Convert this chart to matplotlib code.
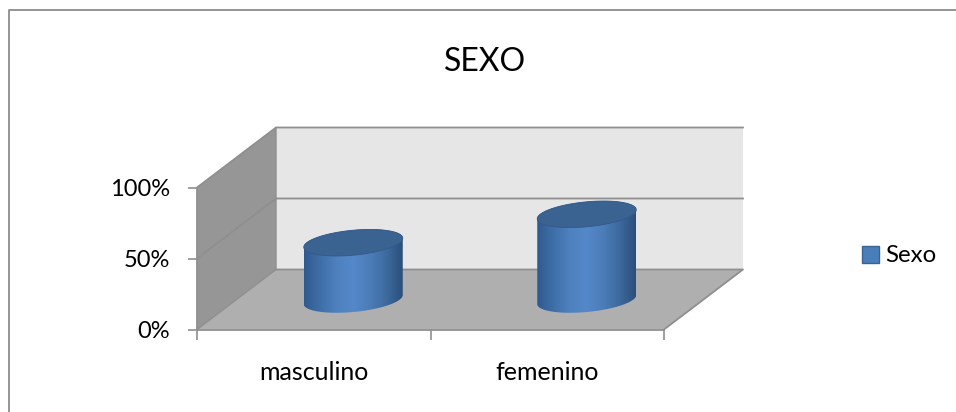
#!/usr/bin/env python3
"""Pseudo-3D cylinder chart, SEXO by category."""

import matplotlib
matplotlib.use("Agg")
import matplotlib.pyplot as plt
import numpy as np
from matplotlib.colors import LinearSegmentedColormap
from matplotlib.lines import Line2D
from matplotlib.patches import Patch, Polygon
from matplotlib.ticker import PercentFormatter

categories = ["masculino", "femenino"]
values = [40, 60]
y_ticks = [0, 50, 100]
series_name = "Sexo"

plt.rcParams["font.family"] = ["Lato", "DejaVu Sans"]

W, H = 956, 412
FRONT_L, FRONT_R, FRONT_B, FRONT_T = 197, 664, 329.5, 187.5
PX_X = (FRONT_R - FRONT_L) / 2      # pixels per category
PX_Y = (FRONT_B - FRONT_T) / 100    # pixels per percent
DEPTH_X = 79 / PX_X                 # depth offset in data units
DEPTH_Y = 60 / PX_Y

LINE = "#8f8f8f"
WALL = "#969696"
BACK = "#e6e6e6"
FLOOR = "#afafaf"
TOP = "#3a6391"

fig = plt.figure(figsize=(W / 100, H / 100), dpi=100)
ax = fig.add_axes([FRONT_L / W, 1 - FRONT_B / H, (FRONT_R - FRONT_L) / W, (FRONT_B - FRONT_T) / H])
ax.patch.set_visible(False)

xmax = len(categories)
ymax = y_ticks[-1]

# walls and floor
ax.add_patch(Polygon([(DEPTH_X, DEPTH_Y), (xmax + DEPTH_X, DEPTH_Y), (xmax + DEPTH_X, ymax + DEPTH_Y),
                      (DEPTH_X, ymax + DEPTH_Y)], fc=BACK, ec="none", clip_on=False, zorder=1))
ax.add_patch(Polygon([(0, 0), (DEPTH_X, DEPTH_Y), (DEPTH_X, ymax + DEPTH_Y), (0, ymax)],
                     fc=WALL, ec="none", clip_on=False, zorder=1))
ax.add_patch(Polygon([(0, 0), (xmax, 0), (xmax + DEPTH_X, DEPTH_Y), (DEPTH_X, DEPTH_Y)],
                     fc=FLOOR, ec="none", clip_on=False, zorder=1))

# gridlines run along the side wall then the back wall
for v in y_ticks[1:]:
    ax.add_line(Line2D([0, DEPTH_X, xmax + DEPTH_X], [v, v + DEPTH_Y, v + DEPTH_Y],
                       color=LINE, lw=1.3, clip_on=False, zorder=2))
ax.add_line(Line2D([DEPTH_X, xmax + DEPTH_X, xmax], [DEPTH_Y, DEPTH_Y, 0],
                   color=LINE, lw=1.3, clip_on=False, zorder=2))
ax.add_line(Line2D([0, DEPTH_X, DEPTH_X], [0, DEPTH_Y, ymax + DEPTH_Y],
                   color=LINE, lw=1.0, clip_on=False, zorder=2))

# cylinders
shade = LinearSegmentedColormap.from_list(
    "cyl", ["#305a8e", "#3f6fa9", "#4f81bf", "#5588ca", "#4c7db9", "#3d6a9f", "#2b4f7b"])
gradient = np.linspace(0, 1, 256).reshape(1, -1)
t = np.linspace(0, 2 * np.pi, 181)
half_w, tilt, half_d = 49.5, 4.5, 12.5


def ellipse(cx, cy, ang):
    # cx, cy in data units, ellipse shape set in pixels
    x = cx + half_w * np.cos(ang) / PX_X
    y = cy + (tilt * np.cos(ang) + half_d * np.sin(ang)) / PX_Y
    return x, y


for i, v in enumerate(values):
    cx = i + 0.5 + DEPTH_X / 2
    base = DEPTH_Y / 2
    lower = np.linspace(np.pi, 2 * np.pi, 91)
    upper = np.linspace(0, np.pi, 91)
    bx, by = ellipse(cx, base, lower)
    tx, ty = ellipse(cx, base + v, upper)
    body = np.column_stack([np.r_[bx, tx], np.r_[by, ty]])
    pad = (half_d + tilt) / PX_Y
    im = ax.imshow(gradient, cmap=shade, aspect="auto", zorder=3,
                   extent=[cx - half_w / PX_X, cx + half_w / PX_X, base - pad, base + v + pad])
    patch = Polygon(body, closed=True, fc="none", ec="none", transform=ax.transData)
    ax.add_patch(patch)
    im.set_clip_path(patch)
    ex, ey = ellipse(cx, base + v, t)
    ax.fill(ex, ey, fc=TOP, ec="#34598a", lw=0.6, zorder=4, clip_on=False)

ax.set_xlim(0, 2)
ax.set_ylim(0, 100)

# axes
for side in ["top", "right"]:
    ax.spines[side].set_visible(False)
for side in ["left", "bottom"]:
    ax.spines[side].set_color(LINE)
    ax.spines[side].set_linewidth(1.3)
    ax.spines[side].set_zorder(2.5)

ax.set_yticks(y_ticks)
ax.yaxis.set_major_formatter(PercentFormatter(100, decimals=0))
ax.tick_params(axis="y", length=6.5, width=1.2, color=LINE, labelsize=17, pad=13, labelcolor="black")
ax.set_xticks(range(xmax + 1))
ax.set_xticklabels([])
ax.tick_params(axis="x", which="major", length=7, width=1.2, color=LINE)
ax.set_xticks([i + 0.5 for i in range(xmax)], minor=True)
ax.set_xticklabels(categories, minor=True)
ax.tick_params(axis="x", which="minor", length=0, labelsize=18, pad=23, labelcolor="black")

fig.text(485.5 / W, 1 - 62 / H, "SEXO", ha="center", va="center", fontsize=23, color="black")

handle = Patch(fc="#4a7ebb", ec="#3a6391", lw=1.0, label=series_name)
fig.legend(handles=[handle], loc="center left", bbox_to_anchor=(862 / W, 1 - 256 / H), frameon=False,
           fontsize=17.3, handlelength=0.7, handleheight=0.7, handletextpad=0.25, borderpad=0, borderaxespad=0)

# chart area border, open at the bottom and right
fig.add_artist(Line2D([8.5 / W, 8.5 / W, 1], [0, 1 - 9.5 / H, 1 - 9.5 / H],
                      color="#8c8c8c", lw=1.3, transform=fig.transFigure))

fig.savefig("out.png", dpi=100)
plt.close(fig)
